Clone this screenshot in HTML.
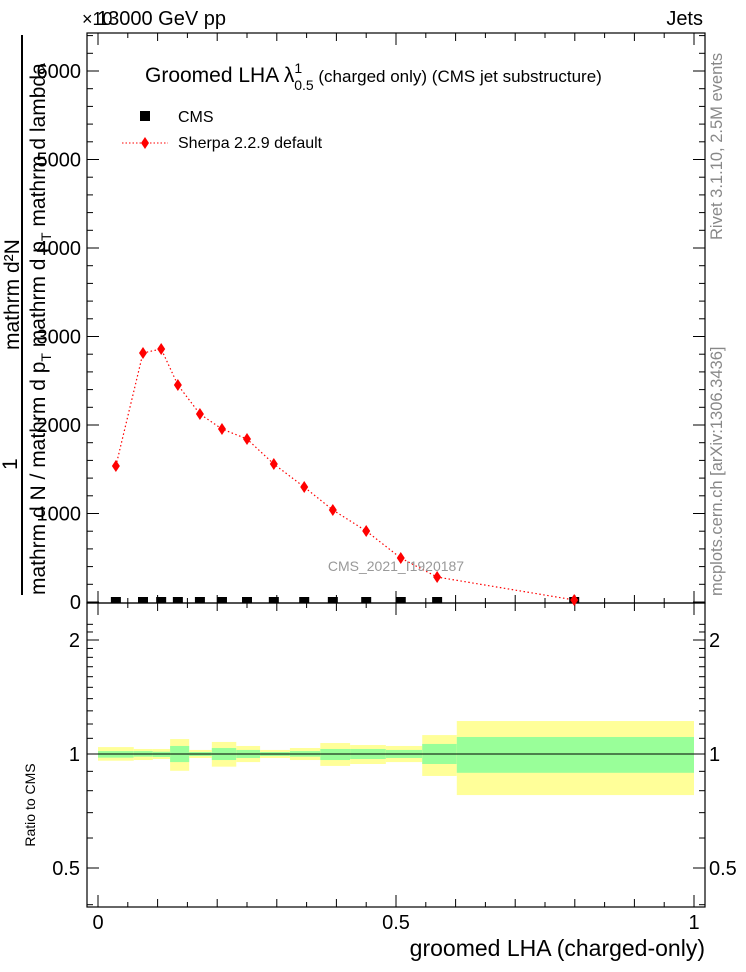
<!DOCTYPE html>
<html><head><meta charset="utf-8"><style>
body{margin:0;background:#fff}
svg{display:block;font-family:"Liberation Sans",Arial,sans-serif}
</style></head><body>
<svg id="chart" width="746" height="972" viewBox="0 0 746 972" xmlns="http://www.w3.org/2000/svg">
<rect width="746" height="972" fill="#fff"/>
<g id="ratioBands"></g>
<g id="axes"></g>
<g id="marks"></g>
<text x="97" y="25" font-size="20">13000 GeV pp</text>
<text x="82" y="25" font-size="18">×10</text>
<text x="703" y="25" font-size="20" text-anchor="end">Jets</text>
<text x="145" y="82" font-size="21">Groomed LHA  λ<tspan font-size="14" dy="-9">1</tspan><tspan font-size="14" dx="-8" dy="17">0.5</tspan><tspan font-size="17" dy="-8">  (charged only) (CMS jet substructure)</tspan></text>
<rect x="140" y="111" width="10" height="10" fill="#000"/>
<text x="178" y="122" font-size="16">CMS</text>
<line x1="122" y1="143" x2="168" y2="143" stroke="red" stroke-dasharray="1.5,2"/>
<path d="M145 137 L149 143 L145 149 L141 143Z" fill="red"/>
<text x="178" y="148" font-size="16">Sherpa 2.2.9 default</text>
<text x="396" y="571" font-size="14" fill="#999" text-anchor="middle">CMS_2021_I1920187</text>
<text transform="translate(722,240) rotate(-90)" font-size="16.5" fill="#888">Rivet 3.1.10, 2.5M events</text>
<text transform="translate(722,596) rotate(-90)" font-size="16.5" fill="#888">mcplots.cern.ch [arXiv:1306.3436]</text>
<text transform="translate(19,350) rotate(-90)" font-size="21">mathrm d²N</text>
<text transform="translate(45,595) rotate(-90)" font-size="21">mathrm d N / mathrm d p<tspan font-size="14" dy="6">T</tspan><tspan dy="-6"> mathrm d p</tspan><tspan font-size="14" dy="6">T</tspan><tspan dy="-6"> mathrm d lambda</tspan></text>
<line x1="22" y1="35" x2="22" y2="595" stroke="#000" stroke-width="2"/>
<text transform="translate(17,470) rotate(-90)" font-size="21">1</text>
<text transform="translate(35,805) rotate(-90)" font-size="14" text-anchor="middle">Ratio to CMS</text>
<text x="705" y="956" font-size="23" text-anchor="end">groomed LHA (charged-only)</text>
</svg>
<script>
const xVals=[0.030,0.0755,0.106,0.134,0.171,0.208,0.25,0.295,0.346,0.394,0.45,0.508,0.569,0.799];
const sherpaVals=[1537,2814,2859,2452,2124,1955,1842,1559,1299,1040,802,497,282,23];
const cmsVals=[0,0,0,0,0,0,0,0,0,0,0,0,0,0];
const binEdges=[0,0.06,0.092,0.121,0.153,0.191,0.232,0.272,0.322,0.373,0.423,0.483,0.544,0.602,1.0];
const yellowUp=[1.043,1.031,1.031,1.095,1.025,1.076,1.05,1.025,1.037,1.069,1.056,1.05,1.122,1.222];
const yellowDn=[0.960,0.964,0.970,0.903,0.976,0.926,0.952,0.976,0.964,0.930,0.941,0.952,0.875,0.779];
const greenUp=[1.018,1.018,1.014,1.05,1.012,1.037,1.025,1.012,1.018,1.031,1.031,1.025,1.063,1.109];
const greenDn=[0.978,0.984,0.982,0.952,0.988,0.964,0.976,0.988,0.984,0.964,0.970,0.976,0.941,0.892];
const yTicks=[0,1000,2000,3000,4000,5000,6000];
const xTicks=[0,0.5,1];
const rTicks=[0.5,1,2];
const NS='http://www.w3.org/2000/svg';
const L=87,R=705,T=33,MB=603,RB=907;
const sx=v=>98+v*596;
const sy=v=>602-v*0.0885;
const sr=v=>754-378.7*Math.log10(v);
function mk(tag,attrs,parent){const e=document.createElementNS(NS,tag);for(const k in attrs)e.setAttribute(k,attrs[k]);parent.appendChild(e);return e;}
const ax=document.getElementById('axes'),mr=document.getElementById('marks'),rb=document.getElementById('ratioBands');
for(let i=0;i<binEdges.length-1;i++){
 const x0=sx(binEdges[i]),x1=sx(binEdges[i+1]);
 const y=mk('rect',{x:x0,y:sr(yellowUp[i]),width:x1-x0,height:sr(yellowDn[i])-sr(yellowUp[i]),fill:'#ffff99'},rb);
 
 
 const g=mk('rect',{x:x0,y:sr(greenUp[i]),width:x1-x0,height:sr(greenDn[i])-sr(greenUp[i]),fill:'#99ff99'},rb);
 
 
}
const one=mk('line',{x1:L,x2:R,y1:sr(1),y2:sr(1),stroke:'#000','stroke-width':1},rb);


const f1=mk('rect',{x:L,y:T,width:R-L,height:MB-T,fill:'none',stroke:'#000','stroke-width':1.2},ax);


const f2=mk('rect',{x:L,y:MB,width:R-L,height:RB-MB,fill:'none',stroke:'#000','stroke-width':1.2},ax);


for(let k=0;k<=20;k++){
 const v=k*0.05,x=sx(v);const len=(k%10===0)?12:(k%2===0?8:5);
 [[MB,-1],[T,1],[RB,-1],[MB,1]].forEach(([y,d])=>{const t=mk('line',{x1:x,x2:x,y1:y,y2:y+d*len,stroke:'#000'},ax);
 
 });
}
xTicks.forEach(v=>{const t=mk('text',{x:sx(v),y:929,'font-size':20,'text-anchor':'middle'},ax);t.textContent=String(v);
 
 });
for(let v=0;v<=6400;v+=200){const y=sy(v);const len=v%1000===0?12:6;
 [[L,1],[R,-1]].forEach(([x,d])=>{const t=mk('line',{x1:x,x2:x+d*len,y1:y,y2:y,stroke:'#000'},ax);
 
 });}
yTicks.forEach(v=>{const t=mk('text',{x:81,y:sy(v)+7,'font-size':20,'text-anchor':'end'},ax);t.textContent=String(v);
 
 });
const rminor=[0.4,0.6,0.7,0.8,0.9,1.1,1.2,1.3,1.4,1.5,1.6,1.7,1.8,1.9,2.1,2.2];
rminor.concat(rTicks).forEach(v=>{const y=sr(v);if(y<MB||y>RB)return;const len=rTicks.includes(v)?12:6;
 [[L,1],[R,-1]].forEach(([x,d])=>{const t=mk('line',{x1:x,x2:x+d*len,y1:y,y2:y,stroke:'#000'},ax);
 
 });});
rTicks.forEach(v=>{[[80,'end'],[709,'start']].forEach(([x,a])=>{const t=mk('text',{x:x,y:sr(v)+7,'font-size':20,'text-anchor':a},ax);t.textContent=String(v);
 
 });});
const pl=mk('polyline',{points:xVals.map((x,i)=>sx(x)+','+sy(sherpaVals[i])).join(' '),fill:'none',stroke:'red','stroke-width':1.2,'stroke-dasharray':'1.5,2.5'},mr);


xVals.forEach((x,i)=>{
 const c=mk('rect',{x:sx(x)-5,y:Math.min(sy(cmsVals[i])-5,MB-6),width:10,height:6,fill:'#000'},mr);
 
 
 const px=sx(x),py=sy(sherpaVals[i]);
 const d=mk('path',{d:`M${px} ${py-6}L${px+4} ${py}L${px} ${py+6}L${px-4} ${py}Z`,fill:'red'},mr);
 
 
});
</script>
</body></html>
